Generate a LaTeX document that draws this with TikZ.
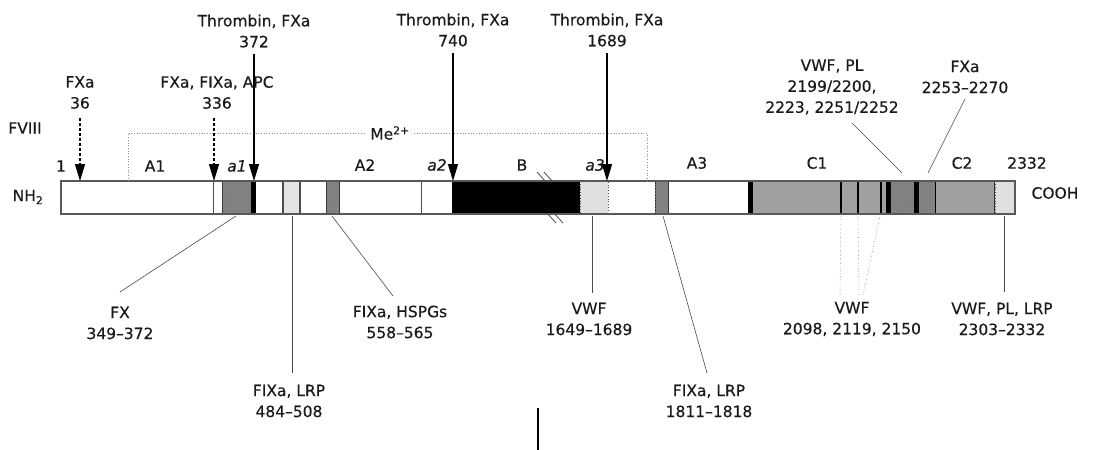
\documentclass[tikz,border=0pt]{standalone}
\usepackage{fontspec}
\setmainfont{DejaVu Sans}[FakeBold=0.4]
\usetikzlibrary{arrows.meta,patterns}
\definecolor{txt}{HTML}{1A1A1A}
\definecolor{ldr}{HTML}{4A4A4A}
\definecolor{cgray}{HTML}{A0A0A0}
\definecolor{hgray}{HTML}{808080}
\definecolor{lgray}{HTML}{E4E4E4}
\tikzset{
  lbl/.style={font={\fontsize{15.5}{21}\selectfont}, text=txt, align=center, inner sep=0pt},
  leader/.style={draw=ldr, line width=0.6pt},
  dleader/.style={draw=ldr!70, line width=0.6pt, dotted},
  cutarrow/.style={draw=black, line width=1.3pt, -{Triangle[width=10pt,length=17pt]}},
  dcutarrow/.style={draw=black, line width=1.3pt, dash pattern=on 3pt off 2pt, -{Triangle[width=10pt,length=17pt]}},
  hbox/.style={fill=hgray, draw=black!80, line width=0.9pt},
  lbox/.style={draw=black!70, line width=0.8pt, dotted},
  blk/.style={fill=black, draw=none},
  metal/.style={draw=black!45, line width=0.7pt, dotted},
}
\begin{document}
\begin{tikzpicture}[x=1pt,y=-1pt]
\useasboundingbox (0,0) rectangle (1093,450);
% bar coordinates
\coordinate (barTL) at (61,181);
\coordinate (barBR) at (1015,214);
% bar body
\fill[white] (barTL) rectangle (barBR);
% gray C domain
\fill[cgray] (748,181) rectangle (995,214);
% hatched dark boxes
\draw[hbox] (222,181) rectangle (251,214);
\fill[pattern=crosshatch dots, pattern color=black!45] (222,181) rectangle (251,214);
\fill[blk] (251,181) rectangle (255.5,214);
\draw[hbox] (326,181) rectangle (339,214);
\fill[pattern=crosshatch dots, pattern color=black!45] (326,181) rectangle (339,214);
\draw[hbox] (655,181) rectangle (668,214);
\fill[pattern=crosshatch dots, pattern color=black!45] (655,181) rectangle (668,214);
% light boxes
\fill[lgray] (283,181) rectangle (300,214);
\draw[black!70, line width=1.2pt] (283,181) -- (283,214) (300,181) -- (300,214);
\fill[lgray] (580,181) rectangle (608,214);
\fill[pattern=north east lines, pattern color=black!15] (580,181) rectangle (608,214);
\draw[lbox] (580,181) rectangle (608,214);
\fill[lgray] (995,181) rectangle (1015,214);
\fill[pattern=north east lines, pattern color=black!15] (995,181) rectangle (1015,214);
\draw[lbox] (995,181) rectangle (1015,214);
% B domain
\fill[blk] (452,181) rectangle (580,214);
% C domain internals
\fill[blk] (748,181) rectangle (752.5,214);
\draw[black, line width=1.2pt] (841,181) -- (841,214) (858,181) -- (858,214) (881,181) -- (881,214);
\fill[blk] (886,181) rectangle (890.5,214);
\fill[hgray] (890.5,181) rectangle (914,214);
\fill[pattern=crosshatch dots, pattern color=black!45] (890.5,181) rectangle (914,214);
\fill[blk] (914,181) rectangle (919,214);
\fill[hgray] (919,181) rectangle (935,214);
\fill[pattern=crosshatch dots, pattern color=black!45] (919,181) rectangle (935,214);
\draw[black, line width=1pt] (935,181) -- (935,214);
\draw[black!80, line width=1pt] (994,181) -- (994,214);
% thin domain separators
\draw[black!70, line width=0.8pt] (213,181) -- (213,214) (421,181) -- (421,214);
% outline
\draw[black!65, line width=1.1pt] (barTL) rectangle (barBR);
% break marks in B domain
\draw[black!70, line width=0.8pt] (537,172) -- (546,182) (544,172) -- (553,182)
      (547,213) -- (556,223) (554,213) -- (563,223);
% metal ion bracket
\node[lbl] (me) at (390,133) {Me\textsuperscript{2+}};
\coordinate (meL) at (128,133);
\coordinate (meR) at (647,133);
\draw[metal] (128,181) -- (meL) -- ([xshift=-4pt]me.west);
\draw[metal] ([xshift=4pt]me.east) -- (meR) -- (647,181);
% side labels
\node[lbl] (fviii) at (25,128) {FVIII};
\node[lbl] (nh2) at (28,197) {NH\textsubscript{2}};
\node[lbl] (cooh) at (1055,193) {COOH};
% domain labels
\node[lbl] (n1) at (61,166) {1};
\node[lbl] (dA1) at (155,166) {A1};
\node[lbl] (da1) at (237,166) {\itshape a1};
\node[lbl] (dA2) at (365,165) {A2};
\node[lbl] (da2) at (437,165) {\itshape a2};
\node[lbl] (dB) at (522,165) {B};
\node[lbl] (da3) at (595,165) {\itshape a3};
\node[lbl] (dA3) at (697,163) {A3};
\node[lbl] (dC1) at (817,163) {C1};
\node[lbl] (dC2) at (962,163) {C2};
\node[lbl] (n2332) at (1027,163) {2332};
% cleavage sites
\node[lbl] (c36) at (80,92.5) {FXa\\36};
\node[lbl] (c336) at (217,92.5) {FXa, FIXa, APC\\336};
\node[lbl] (c372) at (254,31) {Thrombin, FXa\\372};
\node[lbl] (c740) at (453,30) {Thrombin, FXa\\740};
\node[lbl] (c1689) at (607,30) {Thrombin, FXa\\1689};
\coordinate (p36) at (80,181);
\coordinate (p336) at (214,181);
\coordinate (p372) at (254,181);
\coordinate (p740) at (453,181);
\coordinate (p1689) at (607,181);
\draw[dcutarrow] (c36.south -| p36) ++(0,9) -- (p36);
\draw[dcutarrow] (c336.south -| p336) ++(0,9) -- (p336);
\draw[cutarrow] (c372.south -| p372) ++(0,6) -- (p372);
\draw[cutarrow] (c740.south -| p740) ++(0,6) -- (p740);
\draw[cutarrow] (c1689.south -| p1689) ++(0,6) -- (p1689);
% top binding sites
\node[lbl] (bvwfpl) at (832,87) {VWF, PL\\2199/2200,\\2223, 2251/2252};
\node[lbl] (bfxa) at (965,77) {FXa\\2253--2270};
\coordinate (q2200) at (902,173);
\coordinate (q2253) at (928,173);
\coordinate (s2200) at (852,123);
\coordinate (s2253) at (965,99);
\draw[leader] (s2200) -- (q2200);
\draw[leader] (s2253) -- (q2253);
% bottom binding sites
\node[lbl] (bfx) at (120,323) {FX\\349--372};
\node[lbl] (blrp1) at (289,401) {FIXa, LRP\\484--508};
\node[lbl] (bhspg) at (400,322) {FIXa, HSPGs\\558--565};
\node[lbl] (bvwf1) at (589,319) {VWF\\1649--1689};
\node[lbl] (blrp2) at (709,401) {FIXa, LRP\\1811--1818};
\node[lbl] (bvwf3) at (852,319) {VWF\\2098, 2119, 2150};
\node[lbl] (bvwf4) at (1002,319) {VWF, PL, LRP\\2303--2332};
\coordinate (r349) at (236,216);
\coordinate (r484) at (292,216);
\coordinate (r558) at (332,216);
\coordinate (r1649) at (592,216);
\coordinate (r1811) at (663,216);
\coordinate (r2098) at (841,216);
\coordinate (r2119) at (858,216);
\coordinate (r2150) at (880,216);
\coordinate (r2303) at (1004,216);
\draw[leader] (120,292) -- (r349);
\draw[leader] (292,373) -- (r484);
\draw[leader] (393,296) -- (r558);
\draw[leader] (592,293) -- (r1649);
\draw[leader] (707,373) -- (r1811);
\draw[dleader] (840,295) -- (r2098);
\draw[dleader] (859,295) -- (r2119);
\draw[dleader] (863,295) -- (r2150);
\draw[leader] (1004,292) -- (r2303);
% stray mark
\coordinate (st1) at (538,408);
\coordinate (st2) at (538,450);
\draw[black, line width=1.5pt] (st1) -- (st2);
\end{tikzpicture}
\end{document}
